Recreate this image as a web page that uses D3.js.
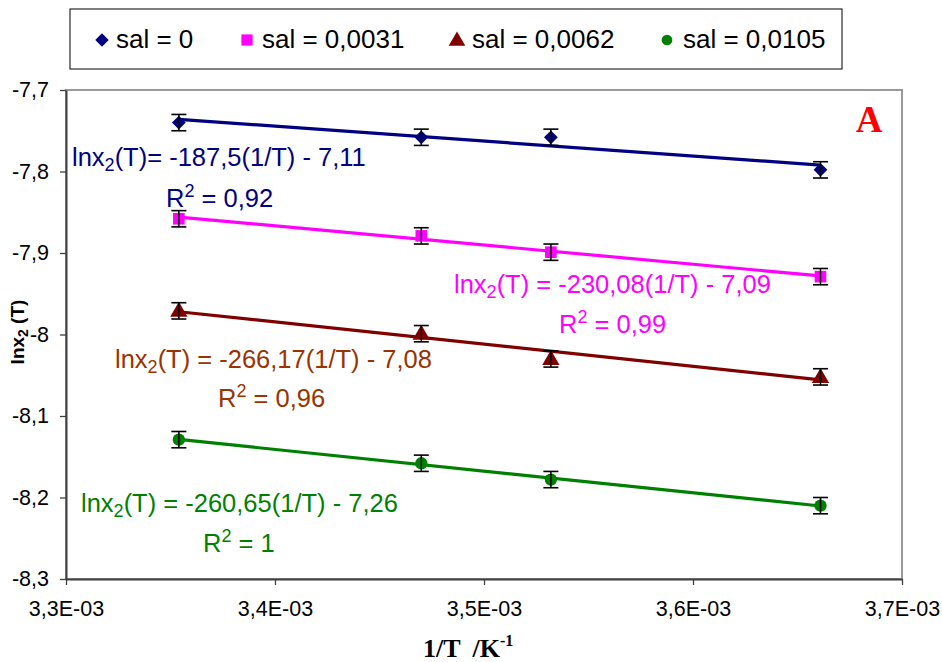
<!DOCTYPE html>
<html><head><meta charset="utf-8">
<script src="https://cdn.jsdelivr.net/npm/d3@7"></script>
<style>
html,body{margin:0;padding:0;background:#fff;}
svg{display:block;}
</style></head>
<body>
<svg id="chart" width="942" height="662"></svg>
<script>
// ---- data ----
const invT = [0.003354, 0.003470, 0.003532, 0.003661];
const seriesNames = ["sal = 0", "sal = 0,0031", "sal = 0,0062", "sal = 0,0105"];
const sal0    = [-7.740, -7.758, -7.758, -7.798];
const sal0031 = [-7.858, -7.879, -7.899, -7.929];
const sal0062 = [-7.971, -7.999, -8.030, -8.052];
const sal0105 = [-8.129, -8.158, -8.178, -8.210];
const errors  = [0.010, 0.010, 0.010, 0.010];
const eqSlopes = ["-187,5", "-230,08", "-266,17", "-260,65"];
const eqIntercepts = ["7,11", "7,09", "7,08", "7,26"];
const r2Values = ["0,92", "0,99", "0,96", "1"];
const xTickValues = [0.0033, 0.0034, 0.0035, 0.0036, 0.0037];
const xTickLabels = ["3,3E-03", "3,4E-03", "3,5E-03", "3,6E-03", "3,7E-03"];
const yTickValues = [-7.7, -7.8, -7.9, -8.0, -8.1, -8.2, -8.3];
const yTickLabels = ["-7,7", "-7,8", "-7,9", "-8", "-8,1", "-8,2", "-8,3"];

// ---- styles / layout ----
const SANS = "'Liberation Sans', Arial, sans-serif";
const SERIF = "'Liberation Serif', 'Times New Roman', serif";
const colors = ["#000080", "#FF00FF", "#800000", "#008000"];
const labelColors = ["#000080", "#FF00FF", "#993300", "#008000"];
const symbols = [d3.symbolSquare, d3.symbolSquare, d3.symbolTriangle, d3.symbolCircle];
const symRot = [45, 0, 0, 0];
const symSizes = [95, 135, 130, 120];
const legSizes = [90, 125, 120, 90];
const eqPos = [
  {x: 72, y: 166, eqSep: "= ", rx: 166, ry: 207},
  {x: 454, y: 293, eqSep: " = ", rx: 559, ry: 333},
  {x: 115, y: 368, eqSep: " = ", rx: 218, ry: 407},
  {x: 81, y: 512, eqSep: " = ", rx: 203, ry: 552}
];
const legItems = [{mx: 102, tx: 116}, {mx: 247, tx: 262}, {mx: 457, tx: 472}, {mx: 667, tx: 683}];

const allSeries = [sal0, sal0031, sal0062, sal0105];
const L = 66, R = 902, T = 90, B = 579;
const svg = d3.select("#chart").style("font-family", SANS);
const x = d3.scaleLinear().domain([0.0033, 0.0037]).range([L, R]);
const y = d3.scaleLinear().domain([-8.3, -7.7]).range([B, T]);

// plot border (grey top/right)
svg.append("rect").attr("x", L).attr("y", T).attr("width", R - L).attr("height", B - T)
  .attr("fill", "none").attr("stroke", "#9a9a9a").attr("stroke-width", 2);

// axes
const yAxis = svg.append("g").attr("transform", `translate(${L},0)`)
  .call(d3.axisLeft(y).tickValues(yTickValues).tickSize(6).tickSizeOuter(0)
    .tickFormat((d, i) => yTickLabels[i]));
const xAxis = svg.append("g").attr("transform", `translate(0,${B})`)
  .call(d3.axisBottom(x).tickValues(xTickValues).tickSize(6).tickSizeOuter(0)
    .tickFormat((d, i) => xTickLabels[i]));
[yAxis, xAxis].forEach(g => {
  g.attr("font-family", null).attr("font-size", null);
  g.select(".domain").attr("stroke", "#404040").attr("stroke-width", 2);
  g.selectAll(".tick line").attr("stroke", "#404040").attr("stroke-width", 1.3);
  g.selectAll(".tick text").style("font-family", SANS)
    .style("font-size", "21.5px").attr("fill", "#000");
});
yAxis.selectAll(".tick text").attr("x", -17);
xAxis.selectAll(".tick text").attr("y", 22);

// least-squares trendlines
function fit(xs, ys) {
  const mx = d3.mean(xs), my = d3.mean(ys);
  let sxy = 0, sxx = 0;
  xs.forEach((v, i) => { sxy += (v - mx) * (ys[i] - my); sxx += (v - mx) * (v - mx); });
  const b = sxy / sxx;
  return v => my + b * (v - mx);
}

allSeries.forEach((ys, s) => {
  const f = fit(invT, ys);
  const x0 = d3.min(invT), x1 = d3.max(invT);
  svg.append("line")
    .attr("x1", x(x0)).attr("y1", y(f(x0)))
    .attr("x2", x(x1)).attr("y2", y(f(x1)))
    .attr("stroke", colors[s]).attr("stroke-width", 3.2);
  const g = svg.append("g");
  ys.forEach((v, i) => {
    g.append("path").attr("d", d3.symbol().type(symbols[s]).size(symSizes[s])())
      .attr("transform", `translate(${x(invT[i])},${y(v) + (s === 2 ? 1 : 0)}) rotate(${symRot[s]})`)
      .attr("fill", colors[s]);
    const top = y(v + errors[i]), bot = y(v - errors[i]), cx = x(invT[i]);
    g.append("line").attr("x1", cx).attr("x2", cx).attr("y1", top).attr("y2", bot)
      .attr("stroke", "#000").attr("stroke-width", 1.5);
    g.append("line").attr("x1", cx - 7.5).attr("x2", cx + 7.5).attr("y1", top).attr("y2", top)
      .attr("stroke", "#000").attr("stroke-width", 1.6);
    g.append("line").attr("x1", cx - 7.5).attr("x2", cx + 7.5).attr("y1", bot).attr("y2", bot)
      .attr("stroke", "#000").attr("stroke-width", 1.6);
  });
});

// equation labels
eqPos.forEach((p, s) => {
  const t = svg.append("text").attr("x", p.x).attr("y", p.y)
    .style("font-size", "25.5px").attr("fill", labelColors[s]);
  t.append("tspan").text("lnx");
  t.append("tspan").text("2").style("font-size", "18px").attr("dy", 5);
  t.append("tspan").text("(T)" + p.eqSep + eqSlopes[s] + "(1/T) - " + eqIntercepts[s]).attr("dy", -5);
  const r = svg.append("text").attr("x", p.rx).attr("y", p.ry)
    .style("font-size", "25.5px").attr("fill", labelColors[s]);
  r.append("tspan").text("R");
  r.append("tspan").text("2").style("font-size", "18px").attr("dy", -10);
  r.append("tspan").text(" = " + r2Values[s]).attr("dy", 10);
});

// panel letter
svg.append("text").attr("x", 869).attr("y", 132).attr("text-anchor", "middle")
  .style("font-family", SERIF).style("font-weight", "bold")
  .style("font-size", "37px").attr("fill", "#FF0000").text("A");

// axis titles
const xt = svg.append("text").attr("x", 423).attr("y", 657)
  .style("font-family", SERIF).style("font-weight", "bold")
  .style("font-size", "26px").attr("fill", "#000");
xt.append("tspan").text("1/T");
xt.append("tspan").text("/K").attr("dx", 12);
xt.append("tspan").text("-1").style("font-size", "16px").attr("dy", -11);

const yt = svg.append("text").attr("transform", "translate(24,332) rotate(-90)")
  .attr("text-anchor", "middle").style("font-weight", "bold").style("font-size", "19px").attr("fill", "#000");
yt.append("tspan").text("lnx");
yt.append("tspan").text("2").style("font-size", "14px").attr("dy", 4);
yt.append("tspan").text(" (T)").attr("dy", -4);

// legend
svg.append("rect").attr("x", 70).attr("y", 9).attr("width", 772).attr("height", 60)
  .attr("fill", "#fff").attr("stroke", "#000").attr("stroke-width", 1);
legItems.forEach((li, s) => {
  svg.append("path").attr("d", d3.symbol().type(symbols[s]).size(legSizes[s])())
    .attr("transform", `translate(${li.mx},${s === 2 ? 41 : 40}) rotate(${symRot[s]})`).attr("fill", colors[s]);
  svg.append("text").attr("x", li.tx).attr("y", 48).style("font-size", "26px").attr("fill", "#000")
    .text(seriesNames[s]);
});
</script>
</body></html>
